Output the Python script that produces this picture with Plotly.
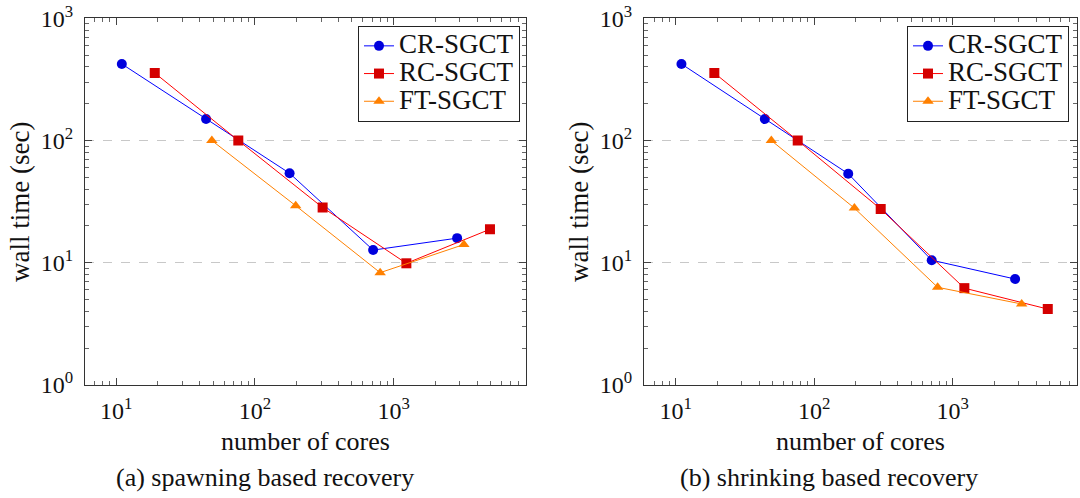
import plotly.graph_objects as go

# ---- data ----
series_names = ["CR-SGCT", "RC-SGCT", "FT-SGCT"]

# (a) spawning based recovery
a_cr_x = [11, 44.5, 178, 712, 2870]
a_cr_y = [423, 150, 54, 12.7, 15.9]
a_rc_x = [19, 76, 308, 1236, 4950]
a_rc_y = [357, 100, 28.3, 9.9, 18.8]
a_ft_x = [49, 197, 800, 3210]
a_ft_y = [100, 29.3, 8.3, 14.1]

# (b) shrinking based recovery
b_cr_x = [11, 44, 176, 705, 2820]
b_cr_y = [423, 150, 53.5, 10.5, 7.36]
b_rc_x = [19, 76, 302, 1213, 4855]
b_rc_y = [357, 100, 27.5, 6.2, 4.18]
b_ft_x = [49, 195, 778, 3145]
b_ft_y = [100, 28, 6.3, 4.6]

x_major = [10, 100, 1000]
x_major_text = ["10<sup>1</sup>", "10<sup>2</sup>", "10<sup>3</sup>"]
y_major = [1, 10, 100, 1000]
y_major_text = ["10<sup>0</sup>", "10<sup>1</sup>", "10<sup>2</sup>", "10<sup>3</sup>"]
minor_vals = [m * 10 ** k for k in range(0, 4) for m in range(2, 10)]

captions = ["(a) spawning based recovery", "(b) shrinking based recovery"]
x_title = "number of cores"
y_title = "wall time (sec)"

colors = {"CR-SGCT": "#0000ff", "RC-SGCT": "#ff0000", "FT-SGCT": "#ff8000"}
mcolors = {"CR-SGCT": "#0000dd", "RC-SGCT": "#d40000", "FT-SGCT": "#ff8000"}
symbols = {"CR-SGCT": "circle", "RC-SGCT": "square", "FT-SGCT": "triangle-up"}
msizes = {"CR-SGCT": 10, "RC-SGCT": 10, "FT-SGCT": 10}

FONT = "serif"
FS = 26        # labels / captions
TFS = 24       # tick labels
LFS = 19       # legend row spacing basis
LTXT = 27      # legend text size

W, H = 1080, 498
fig = go.Figure()

panels = [
    ("x", "y", "legend", [(a_cr_x, a_cr_y), (a_rc_x, a_rc_y), (a_ft_x, a_ft_y)]),
    ("x2", "y2", "legend2", [(b_cr_x, b_cr_y), (b_rc_x, b_rc_y), (b_ft_x, b_ft_y)]),
]
for xa, ya, lg, data in panels:
    for name, (xs, ys) in zip(series_names, data):
        fig.add_trace(go.Scatter(
            x=xs, y=ys, mode="lines+markers",
            name="<span style='font-size:%dpx'>%s</span>" % (LTXT, name),
            xaxis=xa, yaxis=ya, legend=lg,
            line=dict(color=colors[name], width=1),
            marker=dict(symbol=symbols[name], size=msizes[name], color=mcolors[name],
                        line=dict(width=0)),
        ))

def px(x):
    return x / W

def py(y):
    return 1 - y / H

# plot area geometry (screen pixels)
L1, R1 = 85, 525.7
L2, R2 = 644, 1076.7
TOP, BOT = 18.3, 385

def xaxis_common(rng, dom):
    return dict(
        type="log", range=rng, domain=dom, automargin=False,
        tickmode="array", tickvals=x_major, ticktext=x_major_text,
        ticks="inside", ticklen=7, tickwidth=1, tickcolor="#444",
        showline=True, linecolor="#333", linewidth=1.2, mirror="allticks",
        showgrid=False, zeroline=False,
        minor=dict(tickmode="array", tickvals=minor_vals, ticks="inside",
                   ticklen=4, tickwidth=1, tickcolor="#666", showgrid=False),
        tickfont=dict(family=FONT, size=TFS, color="#111"),
        ticklabelstandoff=4, ticklabeloverflow="allow",
    )

def yaxis_common(dom, anchor):
    return dict(
        type="log", range=[0, 3], domain=dom, anchor=anchor, automargin=False,
        tickmode="array", tickvals=y_major, ticktext=y_major_text,
        ticks="inside", ticklen=7, tickwidth=1, tickcolor="#444",
        showline=True, linecolor="#333", linewidth=1.2, mirror="allticks",
        showgrid=True, gridcolor="#c8c8c8", griddash="dash", gridwidth=1,
        zeroline=False,
        minor=dict(tickmode="array", tickvals=minor_vals, ticks="inside",
                   ticklen=4, tickwidth=1, tickcolor="#666", showgrid=False),
        tickfont=dict(family=FONT, size=TFS, color="#111"),
        ticklabelstandoff=6, ticklabeloverflow="allow",
    )

ydom = [py(BOT), py(TOP)]
fig.update_layout(
    width=W, height=H,
    margin=dict(l=0, r=0, t=0, b=0, autoexpand=False),
    paper_bgcolor="white", plot_bgcolor="white",
    font=dict(family=FONT, size=FS, color="#111"),
    xaxis=dict(**xaxis_common([0.776, 3.952], [px(L1), px(R1)]), anchor="y"),
    yaxis=yaxis_common(ydom, "x"),
    xaxis2=dict(**xaxis_common([0.771, 3.895], [px(L2), px(R2)]), anchor="y2"),
    yaxis2=yaxis_common(ydom, "x2"),
    legend=dict(x=px(520), y=py(26), xanchor="right", yanchor="top",
                bgcolor="white", bordercolor="#222", borderwidth=1,
                font=dict(family=FONT, size=LFS, color="#111"),
                itemwidth=30, tracegroupgap=0),
    legend2=dict(x=px(1069), y=py(26), xanchor="right", yanchor="top",
                 bgcolor="white", bordercolor="#222", borderwidth=1,
                 font=dict(family=FONT, size=LFS, color="#111"),
                 itemwidth=30, tracegroupgap=0),
    showlegend=True,
)

anns = []
for (l, r), cap, cap_cx in [((L1, R1), captions[0], 265), ((L2, R2), captions[1], 829)]:
    cx = (l + r) / 2
    anns.append(dict(text=x_title, x=px(cx), y=py(441), xref="paper", yref="paper",
                     xanchor="center", yanchor="middle", showarrow=False,
                     font=dict(family=FONT, size=FS, color="#111")))
    anns.append(dict(text=cap, x=px(cap_cx), y=py(477), xref="paper", yref="paper",
                     xanchor="center", yanchor="middle", showarrow=False,
                     font=dict(family=FONT, size=FS, color="#111")))
    anns.append(dict(text=y_title, x=px(l - 65), y=py(202), xref="paper", yref="paper",
                     xanchor="center", yanchor="middle", showarrow=False, textangle=-90,
                     font=dict(family=FONT, size=27, color="#111")))
fig.update_layout(annotations=anns)

fig.write_html("out.html", config={"displayModeBar": False},
               post_script="document.body.style.margin='0px';")
